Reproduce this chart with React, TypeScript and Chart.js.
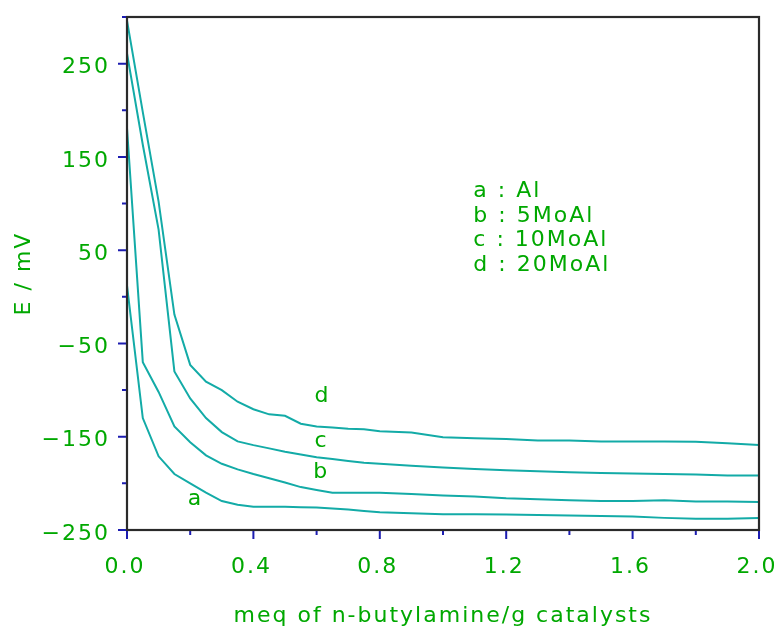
import React, { useEffect, useRef } from 'react';
import { Chart, registerables } from 'chart.js';

Chart.register(...registerables);

// ---------- data ----------
const xValues = [0, 0.05, 0.1, 0.15, 0.2, 0.25, 0.3, 0.35, 0.4, 0.45, 0.5, 0.55, 0.6, 0.65, 0.7, 0.75, 0.8, 0.9, 1.0, 1.1, 1.2, 1.3, 1.4, 1.5, 1.6, 1.7, 1.8, 1.9, 2.0];

const seriesA = [12, -130, -171, -190, -200, -210, -219, -223, -225, -225, -225, -225.5, -226, -227, -228, -229.5, -231, -232, -233, -233, -233.5, -234, -234.5, -235, -235.5, -237, -238, -238, -237];
const seriesB = [181, -70, -102, -139, -156, -170, -179, -185, -190, -194.5, -199, -204, -207, -210, -210, -210, -210, -211.5, -213, -214, -216, -217, -218, -219, -219, -218, -219.5, -219.5, -220];
const seriesC = [261, 163, 72, -80, -109, -130, -145, -155, -159, -162.5, -166, -169, -172, -174, -176, -178, -179, -181, -183, -184.5, -186, -187, -188, -189, -189.5, -190, -190.5, -191.5, -191.5];
const seriesD = [296, 198, 102, -19, -73, -91, -100, -112.5, -120.5, -126, -127.5, -136, -139, -140, -141.5, -142, -144, -145.5, -150.5, -151.5, -152.5, -154, -154, -155, -155, -155, -155.5, -157, -159];

const seriesNames = ['a', 'b', 'c', 'd'];
const legendLines = ['a : Al', 'b : 5MoAl', 'c : 10MoAl', 'd : 20MoAl'];
const legendX = 1.096;
const legendY = [107, 80.7, 54.5, 28.2];

const curveLabelText = ['a', 'b', 'c', 'd'];
const curveLabelX = [0.217, 0.615, 0.616, 0.619];
const curveLabelY = [-223.2, -194.6, -160.7, -112.5];

const xTitle = 'meq of n-butylamine/g catalysts';
const yTitle = 'E / mV';

const xMin = 0, xMax = 2, xStep = 0.2;
const yMin = -250, yMax = 300, yStep = 50;

// ---------- style ----------
const GREEN = '#00a800';
const LINE = '#13aba7';
const BLUE = '#1c1cb0';
const FRAME = '#2a2a2a';
const FAMILY = '"DejaVu Sans", sans-serif';
const FONT_SIZE = 22;
const FONT = `${FONT_SIZE}px ${FAMILY}`;
const SPACING = '2px';

const isMajorX = (v: number) => Math.round(v * 10) % 4 === 0;
const isMajorY = (v: number) => Math.round(v - yMin) % 100 === 0;
const fmtY = (v: number) => (v < 0 ? '\u2212' + Math.abs(v) : String(v));

const zeroPad = (s: any) => {
  s.paddingLeft = 0;
  s.paddingRight = 0;
  s.paddingTop = 0;
  s.paddingBottom = 0;
};

const annotPlugin = {
  id: 'annot',
  beforeDraw(chart: any) {
    chart.ctx.letterSpacing = SPACING;
  },
  afterDraw(chart: any) {
    const { ctx, chartArea: ca, scales } = chart;
    const xs = scales.x;
    const ys = scales.y;
    ctx.save();
    ctx.letterSpacing = SPACING;

    // frame
    ctx.strokeStyle = FRAME;
    ctx.lineWidth = 2.2;
    ctx.strokeRect(ca.left, ca.top, ca.right - ca.left, ca.bottom - ca.top);

    // ticks
    ctx.strokeStyle = BLUE;
    ctx.lineWidth = 2;
    ctx.beginPath();
    xs.ticks.forEach((t: any) => {
      const px = xs.getPixelForValue(t.value);
      const len = isMajorX(t.value) ? 8 : 4;
      ctx.moveTo(px, ca.bottom + 1);
      ctx.lineTo(px, ca.bottom + 1 + len);
    });
    ys.ticks.forEach((t: any) => {
      const py = ys.getPixelForValue(t.value);
      const len = isMajorY(t.value) ? 8 : 4;
      ctx.moveTo(ca.left - 1 - len, py);
      ctx.lineTo(ca.left - 1, py);
    });
    ctx.stroke();

    // texts
    ctx.fillStyle = GREEN;
    ctx.font = FONT;
    ctx.textBaseline = 'alphabetic';
    ctx.textAlign = 'left';
    legendLines.forEach((t, i) => {
      ctx.fillText(t, xs.getPixelForValue(legendX), ys.getPixelForValue(legendY[i]));
    });
    ctx.textAlign = 'center';
    curveLabelText.forEach((t, i) => {
      ctx.fillText(t, xs.getPixelForValue(curveLabelX[i]), ys.getPixelForValue(curveLabelY[i]));
    });

    // axis titles
    ctx.fillText(xTitle, (ca.left + ca.right) / 2, chart.height - 4);
    ctx.save();
    ctx.translate(24, (ca.top + ca.bottom) / 2);
    ctx.rotate(-Math.PI / 2);
    ctx.textBaseline = 'middle';
    ctx.fillText(yTitle, 0, 0);
    ctx.restore();

    ctx.restore();
  },
};

export default function App() {
  const canvasRef = useRef<HTMLCanvasElement | null>(null);

  useEffect(() => {
    if (!canvasRef.current) return;
    const all = [seriesA, seriesB, seriesC, seriesD];
    const chart = new Chart(canvasRef.current, {
      type: 'line',
      data: {
        datasets: all.map((s, k) => ({
          label: seriesNames[k],
          data: xValues.map((x, i) => ({ x, y: s[i] })),
          borderColor: LINE,
          borderWidth: 2,
          pointRadius: 0,
          tension: 0,
          fill: false,
        })),
      },
      options: {
        animation: false,
        responsive: true,
        maintainAspectRatio: false,
        layout: { padding: { top: 17, right: 18, left: 0, bottom: 0 } },
        plugins: { legend: { display: false }, tooltip: { enabled: false } },
        scales: {
          x: {
            type: 'linear',
            min: xMin,
            max: xMax,
            grid: { display: false, drawTicks: false },
            border: { display: false },
            ticks: {
              stepSize: xStep,
              autoSkip: false,
              maxRotation: 0,
              color: GREEN,
              font: { family: FAMILY, size: FONT_SIZE },
              padding: 24,
              labelOffset: -2,
              callback: (v: any) => (isMajorX(Number(v)) ? Number(v).toFixed(1) : ''),
            },
            afterFit: (s: any) => { s.height = 96; zeroPad(s); },
          },
          y: {
            type: 'linear',
            min: yMin,
            max: yMax,
            grid: { display: false, drawTicks: false },
            border: { display: false },
            ticks: {
              stepSize: yStep,
              autoSkip: false,
              color: GREEN,
              font: { family: FAMILY, size: FONT_SIZE },
              padding: 17,
              labelOffset: 4,
              callback: (v: any) => (isMajorY(Number(v)) ? fmtY(Number(v)) : ''),
            },
            afterFit: (s: any) => { s.width = 127; zeroPad(s); },
          },
        },
      },
      plugins: [annotPlugin],
    } as any);
    return () => chart.destroy();
  }, []);

  return (
    <div style={{ position: 'fixed', left: 0, top: 0, width: 777, height: 626, background: '#fff' }}>
      <canvas ref={canvasRef} />
    </div>
  );
}
